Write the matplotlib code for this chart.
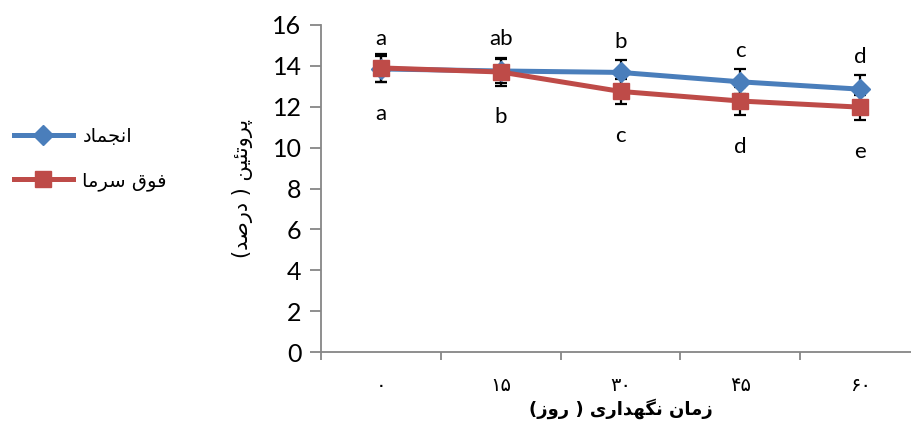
import matplotlib
matplotlib.use("Agg")
import matplotlib.pyplot as plt
from matplotlib.lines import Line2D

# protein content (%) over storage time
days = ["۰", "۱۵", "۳۰", "۴۵", "۶۰"]
freeze = [13.85, 13.75, 13.68, 13.22, 12.86]
freeze_err = [0.65, 0.58, 0.6, 0.61, 0.7]
supercool = [13.9, 13.7, 12.75, 12.28, 11.98]
supercool_err = [0.68, 0.68, 0.6, 0.68, 0.61]

# significance letters (above = freeze, below = supercool)
letters_top = ["a", "ab", "b", "c", "d"]
letters_bot = ["a", "b", "c", "d", "e"]
# where the letters sit (baseline, data units)
top_y = [15.02, 15.02, 14.87, 14.43, 14.14]
bot_y = [11.35, 11.2, 10.27, 9.74, 9.49]

name_freeze = "انجماد"
name_supercool = "فوق سرما"
ylabel = "پروتئین ( درصد)"
xlabel = "زمان نگهداری ( روز)"

# tiny arabic shaper: (isolated, final, initial, medial)
forms = {
    'ا': ('\uFE8D', '\uFE8E', None, None),
    'د': ('\uFEA9', '\uFEAA', None, None),
    'ر': ('\uFEAD', '\uFEAE', None, None),
    'ز': ('\uFEAF', '\uFEB0', None, None),
    'و': ('\uFEED', '\uFEEE', None, None),
    'ن': ('\uFEE5', '\uFEE6', '\uFEE7', '\uFEE8'),
    'ج': ('\uFE9D', '\uFE9E', '\uFE9F', '\uFEA0'),
    'م': ('\uFEE1', '\uFEE2', '\uFEE3', '\uFEE4'),
    'ف': ('\uFED1', '\uFED2', '\uFED3', '\uFED4'),
    'ق': ('\uFED5', '\uFED6', '\uFED7', '\uFED8'),
    'س': ('\uFEB1', '\uFEB2', '\uFEB3', '\uFEB4'),
    'گ': ('\uFB92', '\uFB93', '\uFB94', '\uFB95'),
    'ه': ('\uFEE9', '\uFEEA', '\uFEEB', '\uFEEC'),
    'ی': ('\uFBFC', '\uFBFD', '\uFBFE', '\uFBFF'),
    'پ': ('\uFB56', '\uFB57', '\uFB58', '\uFB59'),
    'ت': ('\uFE95', '\uFE96', '\uFE97', '\uFE98'),
    'ئ': ('\uFE89', '\uFE8A', '\uFE8B', '\uFE8C'),
    'ص': ('\uFEB9', '\uFEBA', '\uFEBB', '\uFEBC'),
}


def fa(s):
    out = []
    for i, ch in enumerate(s):
        if ch not in forms:
            out.append(ch)
            continue
        prev = s[i - 1] if i > 0 else ''
        nxt = s[i + 1] if i + 1 < len(s) else ''
        prev_joins = prev in forms and forms[prev][2] is not None
        next_joins = nxt in forms
        iso, fin, ini, med = forms[ch]
        if prev_joins:
            out.append(med if (next_joins and med) else fin)
        else:
            out.append(ini if (next_joins and ini) else iso)
    vis = ''.join(out)[::-1]
    return vis.translate(str.maketrans("()", ")("))


blue = "#4A7EBB"
red = "#BE4B48"
grey = "#868686"
latin = "Lato"
arab = "DejaVu Sans"

fig = plt.figure(figsize=(9.12, 4.29), dpi=100)
ax = fig.add_axes([321 / 912, 1 - 352 / 429, 599 / 912, 327 / 429])

x = list(range(len(days)))
ax.errorbar(x, freeze, yerr=freeze_err, fmt='none', ecolor='black',
            elinewidth=1.6, capsize=4, capthick=1.6, zorder=2)
ax.errorbar(x, supercool, yerr=supercool_err, fmt='none', ecolor='black',
            elinewidth=1.6, capsize=4, capthick=1.6, zorder=2)
ax.plot(x, freeze, color=blue, lw=3.6, marker='D', ms=10, zorder=3)
ax.plot(x, supercool, color=red, lw=3.6, marker='s', ms=12, zorder=4)

for i in x:
    ax.text(i, top_y[i], letters_top[i], ha='center', va='baseline',
            fontsize=16, family=latin)
    ax.text(i, bot_y[i], letters_bot[i], ha='center', va='baseline',
            fontsize=16, family=latin)

ax.set_xlim(-0.5, len(days) - 0.5)
ax.set_ylim(0, 16)
ax.set_yticks(range(0, 17, 2))
ax.set_yticklabels([str(v) for v in range(0, 17, 2)], family=latin, fontsize=18)
ax.set_xticks(x)
ax.set_xticklabels(days, family=arab, fontsize=14)
ax.set_xticks([i - 0.5 for i in range(len(days) + 1)], minor=True)
ax.tick_params(axis='x', which='major', length=0, pad=17)
ax.tick_params(axis='x', which='minor', length=6, color=grey, width=1.3)
ax.tick_params(axis='y', length=8, color=grey, width=1.3, pad=6)

for side in ['top', 'right']:
    ax.spines[side].set_visible(False)
for side in ['left', 'bottom']:
    ax.spines[side].set_color(grey)
    ax.spines[side].set_linewidth(1.3)

ax.set_ylabel(fa(ylabel), family=arab, fontsize=15, labelpad=14)
ax.set_xlabel(fa(xlabel), family=arab, fontsize=13, fontweight='bold', labelpad=3)

handles = [Line2D([], [], color=blue, lw=3.6, marker='D', ms=10),
           Line2D([], [], color=red, lw=3.6, marker='s', ms=12)]
fig.legend(handles, [fa(name_freeze), fa(name_supercool)], loc='center left',
           bbox_to_anchor=(0.005, 0.63), frameon=False, handlelength=3.0,
           handletextpad=0.5, labelspacing=1.3, borderpad=0,
           prop={'family': arab, 'size': 14})

fig.savefig("out.png", dpi=100)
